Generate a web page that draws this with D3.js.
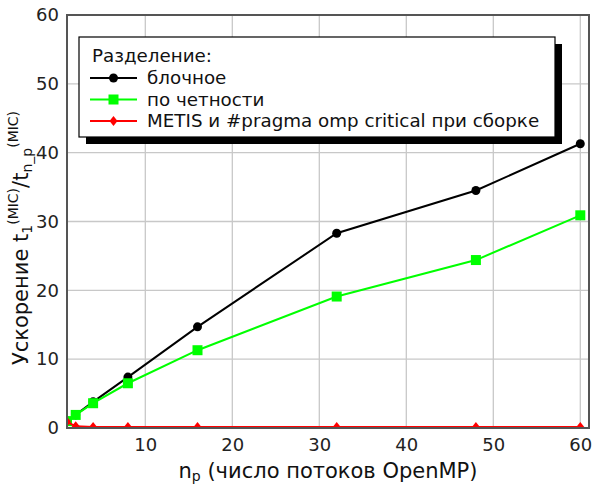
<!DOCTYPE html>
<html>
<head>
<meta charset="utf-8">
<script src="https://cdn.jsdelivr.net/npm/d3@7"></script>
<style>
  body { margin: 0; background: #fff; }
  text { font-family: "DejaVu Sans", sans-serif; }
</style>
</head>
<body>
<svg id="chart" width="594" height="486"></svg>
<script>
// threads and speedups
const threads = [1, 2, 4, 8, 16, 32, 48, 60];
const blockSpeedup = [1, 1.9, 3.8, 7.4, 14.7, 28.3, 34.5, 41.3];
const paritySpeedup = [1, 1.9, 3.6, 6.5, 11.3, 19.1, 24.4, 30.9];
const metisSpeedup = [0.9, 0.25, 0.15, 0.15, 0.15, 0.15, 0.15, 0.15];
const xTicks = [10, 20, 30, 40, 50, 60];
const yTicks = [0, 10, 20, 30, 40, 50, 60];
const seriesNames = ["блочное", "по четности", "METIS и #pragma omp critical при сборке"];
const seriesColors = ["#000000", "#00ff00", "#ff0000"];

const svg = d3.select("#chart");
const padL = 67, padR = 589, padT = 15, padB = 428;

const x = d3.scaleLinear().domain([1, 61]).range([padL, padR]);
const y = d3.scaleLinear().domain([0, 60]).range([padB, padT]);

// grid
svg.append("g").selectAll("line").data(xTicks).enter().append("line")
  .attr("x1", d => x(d)).attr("x2", d => x(d))
  .attr("y1", padT).attr("y2", padB)
  .attr("stroke", "#c8c8c8").attr("stroke-width", 1.3);
svg.append("g").selectAll("line").data(yTicks).enter().append("line")
  .attr("x1", padL).attr("x2", padR)
  .attr("y1", d => y(d)).attr("y2", d => y(d))
  .attr("stroke", "#c8c8c8").attr("stroke-width", 1.3);

// axes (labels only, frame drawn below)
const xAxis = svg.append("g").attr("transform", `translate(0,${padB})`)
  .call(d3.axisBottom(x).tickValues(xTicks).tickSize(0).tickPadding(10));
const yAxis = svg.append("g").attr("transform", `translate(${padL},0)`)
  .call(d3.axisLeft(y).tickValues(yTicks).tickSize(0).tickPadding(8));
[xAxis, yAxis].forEach(a => {
  a.select(".domain").remove();
  a.selectAll("text").attr("font-size", 18).attr("fill", "#222")
    .attr("font-family", "DejaVu Sans, sans-serif");
});

const data = [blockSpeedup, paritySpeedup, metisSpeedup];
const line = d3.line().x((d, i) => x(threads[i])).y(d => y(d));

svg.append("defs").append("clipPath").attr("id", "clip")
  .append("rect").attr("x", padL).attr("y", padT)
  .attr("width", padR - padL).attr("height", padB - padT);

const plot = svg.append("g").attr("clip-path", "url(#clip)");

function marker(g, k, cx, cy) {
  if (k === 0) {
    g.append("circle").attr("cx", cx).attr("cy", cy).attr("r", 4.5).attr("fill", seriesColors[k]);
  } else if (k === 1) {
    g.append("rect").attr("x", cx - 5).attr("y", cy - 5).attr("width", 10).attr("height", 10).attr("fill", seriesColors[k]);
  } else {
    g.append("path").attr("d", `M${cx},${cy - 5}L${cx + 4},${cy}L${cx},${cy + 5}L${cx - 4},${cy}Z`)
      .attr("fill", seriesColors[k]);
  }
}

data.forEach((vals, k) => {
  plot.append("path").datum(vals).attr("d", line)
    .attr("fill", "none").attr("stroke", seriesColors[k]).attr("stroke-width", 2);
  vals.forEach((v, i) => marker(plot, k, x(threads[i]), y(v)));
});

// frame
svg.append("rect").attr("x", padL).attr("y", padT)
  .attr("width", padR - padL).attr("height", padB - padT)
  .attr("fill", "none").attr("stroke", "#555").attr("stroke-width", 2);

// axis titles
svg.append("text").attr("x", 328).attr("y", 478).attr("text-anchor", "middle")
  .attr("font-size", 21).attr("fill", "#111")
  .html('n<tspan font-size="14" dy="3">p</tspan><tspan dy="-3"> (число потоков OpenMP)</tspan>');

svg.append("text").attr("transform", "translate(28,238) rotate(-90)")
  .attr("text-anchor", "middle").attr("font-size", 21).attr("fill", "#111")
  .html('Ускорение t<tspan font-size="14" dy="4">1</tspan><tspan font-size="14" dy="-14">(MIC)</tspan>' +
        '<tspan dy="10">/t</tspan><tspan font-size="14" dy="4">n_p</tspan><tspan font-size="14" dy="-14">(MIC)</tspan>');

// legend
const lg = svg.append("g");
lg.append("rect").attr("x", 86).attr("y", 44).attr("width", 476).attr("height", 100).attr("fill", "#000");
lg.append("rect").attr("x", 79).attr("y", 37).attr("width", 476).attr("height", 100)
  .attr("fill", "#fff").attr("stroke", "#000").attr("stroke-width", 1.2);
lg.append("text").attr("x", 92).attr("y", 62).attr("font-size", 18.3).attr("fill", "#111").text("Разделение:");
seriesNames.forEach((name, k) => {
  const yy = 78 + k * 21.5;
  lg.append("line").attr("x1", 90).attr("x2", 137).attr("y1", yy).attr("y2", yy)
    .attr("stroke", seriesColors[k]).attr("stroke-width", 2);
  marker(lg, k, 113.5, yy);
  lg.append("text").attr("x", 147).attr("y", yy + 6).attr("font-size", 18.3).attr("fill", "#111").text(name);
});
</script>
</body>
</html>
